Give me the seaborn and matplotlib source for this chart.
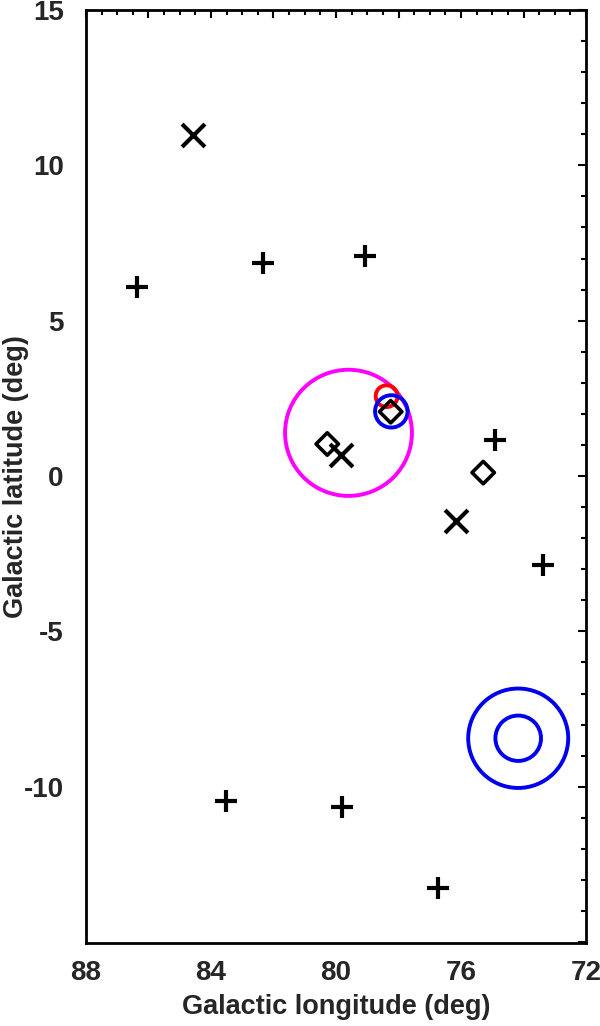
import numpy as np
import pandas as pd
import matplotlib
matplotlib.use("Agg")
import matplotlib.pyplot as plt
from matplotlib.patches import Circle
from matplotlib.ticker import MultipleLocator, FuncFormatter
import seaborn as sns

# ---------------------------------------------------------------------------
# data (galactic coordinates in deg)
# ---------------------------------------------------------------------------
plus_l = [86.36, 82.33, 79.07, 74.90, 73.39, 83.52, 79.82, 76.73]
plus_b = [6.09, 6.85, 7.09, 1.16, -2.86, -10.46, -10.64, -13.27]

cross_l = [84.59, 79.85, 76.16]
cross_b = [10.97, 0.68, -1.45]

diam_l = [80.28, 78.25, 75.29]
diam_b = [1.03, 2.07, 0.11]

# circles: centre l, centre b, radius (deg)
circ_l = [79.60, 78.38, 78.23, 74.17, 74.17]
circ_b = [1.39, 2.57, 2.08, -8.44, -8.44]
circ_r = [2.03, 0.35, 0.52, 1.60, 0.73]
circ_c = ["#ff00ff", "#ff0000", "#0000ee", "#0000ee", "#0000ee"]

plus_df = pd.DataFrame({"l": plus_l, "b": plus_b})
cross_df = pd.DataFrame({"l": cross_l, "b": cross_b})
diam_df = pd.DataFrame({"l": diam_l, "b": diam_b})

# ---------------------------------------------------------------------------
# style
# ---------------------------------------------------------------------------
sns.set_style("white")
plt.rcParams["font.family"] = ["Liberation Sans", "DejaVu Sans"]
plt.rcParams["font.weight"] = "bold"
plt.rcParams["axes.unicode_minus"] = False

fig = plt.figure(figsize=(6.0, 10.26), dpi=100)
ax = fig.add_axes([0.1433, 0.0809, 0.8334, 0.9094])

for i in range(len(circ_l)):
    ax.add_patch(Circle((circ_l[i], circ_b[i]), circ_r[i], fill=False,
                        edgecolor=circ_c[i], linewidth=2.8, zorder=2))

sns.scatterplot(data=plus_df, x="l", y="b", marker="+", s=250,
                color="black", linewidth=3.0, ax=ax, zorder=3)
sns.scatterplot(data=cross_df, x="l", y="b", marker="x", s=270,
                color="black", linewidth=3.0, ax=ax, zorder=3)
sns.scatterplot(data=diam_df, x="l", y="b", marker="D", s=130,
                facecolor="none", edgecolor="black", linewidth=2.6,
                ax=ax, zorder=3)

ax.set_xlim(88, 72)
ax.set_ylim(-15.03, 15)

ax.xaxis.set_major_locator(MultipleLocator(2))
ax.xaxis.set_minor_locator(MultipleLocator(0.5))
ax.xaxis.set_major_formatter(FuncFormatter(
    lambda v, p: f"{v:.0f}" if round(v) % 4 == 0 else ""))
ax.yaxis.set_major_locator(MultipleLocator(5))
ax.yaxis.set_minor_locator(MultipleLocator(1))
ax.yaxis.set_major_formatter(FuncFormatter(
    lambda v, p: f"{v:.0f}" if v > -14 else ""))

ax.tick_params(which="both", direction="in", top=True, right=True,
               color="black", width=1.5)
ax.tick_params(which="major", length=6, labelsize=20)
ax.tick_params(axis="x", which="major", pad=12)
ax.tick_params(axis="y", which="major", pad=16)
ax.tick_params(which="minor", length=3.5)
for lab in ax.get_xticklabels() + ax.get_yticklabels():
    lab.set_fontweight("bold")

for sp in ax.spines.values():
    sp.set_visible(True)
    sp.set_color("black")
    sp.set_linewidth(2.0)

ax.set_xlabel("Galactic longitude (deg)", fontsize=19.5, fontweight="bold")
ax.set_ylabel("Galactic latitude (deg)", fontsize=19.5, fontweight="bold")
ax.xaxis.set_label_coords(0.5, -0.055)
ax.yaxis.set_label_coords(-0.114, 0.5)

fig.savefig("out.png", dpi=100)
plt.close(fig)
